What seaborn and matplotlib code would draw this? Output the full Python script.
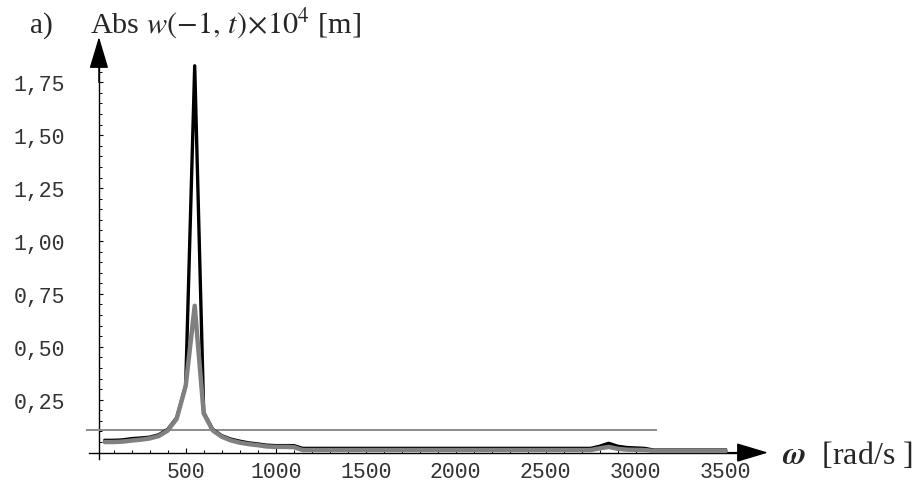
import numpy as np
import pandas as pd
import matplotlib
matplotlib.use("Agg")
import matplotlib.pyplot as plt
import seaborn as sns
from matplotlib.ticker import FixedLocator, FuncFormatter

# ---------------- data ----------------
omega = [50, 100, 150, 200, 250, 300, 350, 400, 450, 500, 550, 600, 650, 700,
         750, 800, 850, 900, 950, 1000, 1050, 1100, 1150, 2750, 2800, 2850,
         2900, 2950, 3000, 3050, 3100, 3500]
abs_black = [0.058, 0.058, 0.060, 0.066, 0.069, 0.073, 0.084, 0.110, 0.165, 0.318,
             1.828, 0.190, 0.110, 0.080, 0.064, 0.054, 0.046, 0.041, 0.035, 0.033,
             0.033, 0.033, 0.020, 0.020, 0.030, 0.044, 0.030, 0.024, 0.022, 0.020,
             0.012, 0.012]
abs_gray = [0.050, 0.050, 0.052, 0.057, 0.061, 0.067, 0.078, 0.104, 0.160, 0.315,
            0.694, 0.185, 0.105, 0.075, 0.058, 0.047, 0.040, 0.035, 0.029, 0.027,
            0.027, 0.026, 0.012, 0.012, 0.020, 0.027, 0.018, 0.014, 0.013, 0.012,
            0.008, 0.008]
threshold = 0.107
threshold_span = [-55, 3120]

x_major_ticks = [500, 1000, 1500, 2000, 2500, 3000, 3500]
y_major_ticks = [0.25, 0.50, 0.75, 1.00, 1.25, 1.50, 1.75]

# ---------------- style ----------------
sns.set_theme(style="white")
plt.rcParams["font.family"] = ["Liberation Serif", "DejaVu Serif"]
plt.rcParams["mathtext.fontset"] = "stix"

W, H = 922, 489
fig = plt.figure(figsize=(W / 100, H / 100), dpi=100)
fig.patch.set_facecolor("white")
ax = fig.add_axes([0, 0, 1, 1])
ax.set_facecolor("white")

# pixel mapping of the reference
x0_px, sx = 95.7, 0.18      # px per rad/s
y0_px, sy = 453.6, 211.6    # px per unit
ax.set_xlim(-x0_px / sx, (W - x0_px) / sx)
ax.set_ylim((y0_px - H) / sy, y0_px / sy)

df = pd.DataFrame({"omega": omega, "black": abs_black, "gray": abs_gray})

ax.hlines(threshold, threshold_span[0], threshold_span[1], color="#8c8c8c",
          lw=1.4, zorder=2)
sns.lineplot(data=df, x="omega", y="black", color="black", lw=2.4, ax=ax,
             zorder=3, sort=False)
sns.lineplot(data=df, x="omega", y="gray", color="#808080", lw=3.2, ax=ax,
             zorder=4, sort=False)
ax.set_xlabel("")
ax.set_ylabel("")

# ---------------- axes as arrows ----------------
y_axis_x = 18
for s in ["top", "right"]:
    ax.spines[s].set_visible(False)
ax.spines["left"].set_position(("data", y_axis_x))
ax.spines["bottom"].set_position(("data", 0))
ax.spines["left"].set_bounds(-0.03, 1.85)
ax.spines["bottom"].set_bounds(-37, 3600)
for s in ["left", "bottom"]:
    ax.spines[s].set_color("black")
    ax.spines[s].set_linewidth(1.0)
    ax.spines[s].set_zorder(1)

arrow_style = "-|>,head_length=1.0,head_width=0.3"
ax.annotate("", xy=(y_axis_x, (y0_px - 38) / sy), xytext=(y_axis_x, 1.75),
            arrowprops=dict(arrowstyle=arrow_style, color="black", lw=1.0,
                            mutation_scale=20, shrinkA=0, shrinkB=0))
ax.annotate("", xy=((768 - x0_px) / sx, 0), xytext=(3500, 0),
            arrowprops=dict(arrowstyle=arrow_style, color="black", lw=1.0,
                            mutation_scale=20, shrinkA=0, shrinkB=0))

# ticks
ax.xaxis.set_major_locator(FixedLocator(x_major_ticks))
ax.xaxis.set_minor_locator(FixedLocator([v for v in range(100, 3501, 100)
                                         if v not in x_major_ticks]))
ax.yaxis.set_major_locator(FixedLocator(y_major_ticks))
ax.yaxis.set_minor_locator(FixedLocator([round(0.05 * k, 2) for k in range(1, 38)
                                         if round(0.05 * k, 2) not in y_major_ticks]))
ax.xaxis.set_major_formatter(FuncFormatter(lambda v, _: f"{int(round(v))}"))
ax.yaxis.set_major_formatter(FuncFormatter(lambda v, _: f"{v:.2f}".replace(".", ",")))

ax.tick_params(axis="both", which="both", direction="in", color="black",
               labelcolor="#333333", labelsize=15.5, labelfontfamily="Liberation Mono")
ax.tick_params(axis="x", which="major", length=3.6, width=0.8, pad=6)
ax.tick_params(axis="x", which="minor", length=2.0, width=0.7)
ax.tick_params(axis="y", which="major", length=3.0, width=0.8, pad=24.5)
ax.tick_params(axis="y", which="minor", length=1.8, width=0.7)
ax.tick_params(axis="x", which="both", bottom=True, top=False)
ax.tick_params(axis="y", which="both", left=True, right=False)

# ---------------- texts ----------------
fig.text(30 / W, 1 - 33 / H, "a)", fontsize=21, ha="left", va="baseline")
fig.text(90 / W, 1 - 33 / H, r"Abs $w(-1,\,t)\!\times\!10^{4}$ [m]", fontsize=21.8,
         ha="left", va="baseline")
fig.text(782 / W, 1 - 464 / H, r"$\boldsymbol{\omega}$  [rad/s ]", fontsize=23,
         ha="left", va="baseline")

fig.savefig("out.png", dpi=100, facecolor="white")
